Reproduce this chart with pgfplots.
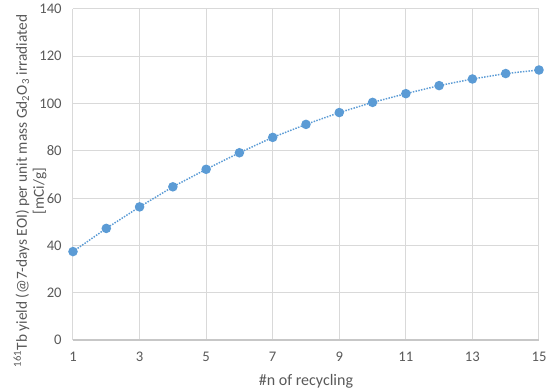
\documentclass[border=0pt]{standalone}
\usepackage{pgfplots}
\pgfplotsset{compat=1.18}
\usepackage{fontspec}
\setmainfont{Carlito}
\definecolor{txt}{HTML}{595959}
\definecolor{grd}{HTML}{D9D9D9}
\definecolor{ser}{HTML}{5B9BD5}
\begin{document}
\begin{tikzpicture}
\begin{axis}[
  name=ax,
  scale only axis,
  width=349.5pt, height=248.25pt,
  xmin=1, xmax=15, ymin=0, ymax=140,
  xtick={1,3,5,7,9,11,13,15},
  ytick={0,20,...,140},
  grid=major,
  major grid style={grd, line width=0.75pt},
  axis lines*=left,
  x axis line style={color=grd!80!gray, line width=0.75pt},
  y axis line style={draw=none},
  major tick length=0pt,
  tick label style={font=\fontsize{11}{13}\selectfont, text=txt},
  /pgf/number format/assume math mode=true,
  xticklabel style={yshift=-5.5pt},
  yticklabel style={xshift=-5pt},
  xlabel={\#n of recycling},
  xlabel style={font=\fontsize{12}{14}\selectfont, text=txt, yshift=-2.5pt},
  ylabel={\textsuperscript{161}Tb yield (@7-days EOI) per unit mass Gd\textsubscript{2}O\textsubscript{3} irradiated\\{}[mCi/g]},
  ylabel style={font=\fontsize{11.5}{12.75}\selectfont, text=txt, align=center,
    at={(axis description cs:-0.047,0.45)}, anchor=south},
  clip=false,
]
\addplot[ser, densely dotted, line width=1.1pt, mark=*, mark size=3pt, mark options={solid, fill=ser, draw=ser}]
coordinates {
(1,37.4) (2,47.2) (3,56.3) (4,64.8) (5,72.2) (6,79.2) (7,85.7) (8,91.2)
(9,96.2) (10,100.5) (11,104.2) (12,107.6) (13,110.4) (14,112.7) (15,114.2)
};
\end{axis}
\pgfresetboundingbox
\path[use as bounding box] ([xshift=-54.75pt,yshift=-36.75pt]ax.south west) rectangle ([xshift=8.25pt,yshift=6.75pt]ax.north east);
\end{tikzpicture}
\end{document}
